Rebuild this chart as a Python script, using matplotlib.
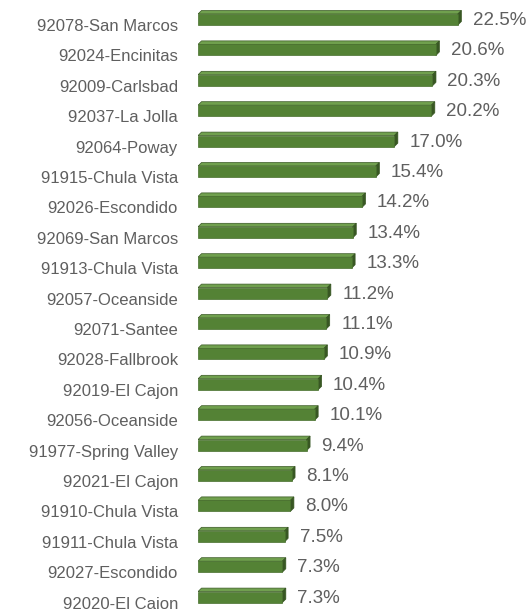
import matplotlib
matplotlib.use('Agg')
import matplotlib.pyplot as plt
from matplotlib.patches import Polygon

plt.rcParams['font.family'] = ['Liberation Sans', 'DejaVu Sans']

zips = ['92078-San Marcos', '92024-Encinitas', '92009-Carlsbad', '92037-La Jolla',
        '92064-Poway', '91915-Chula Vista', '92026-Escondido', '92069-San Marcos',
        '91913-Chula Vista', '92057-Oceanside', '92071-Santee', '92028-Fallbrook',
        '92019-El Cajon', '92056-Oceanside', '91977-Spring Valley', '92021-El Cajon',
        '91910-Chula Vista', '91911-Chula Vista', '92027-Escondido', '92020-El Cajon']
pct = [22.5, 20.6, 20.3, 20.2, 17.0, 15.4, 14.2, 13.4, 13.3, 11.2,
       11.1, 10.9, 10.4, 10.1, 9.4, 8.1, 8.0, 7.5, 7.3, 7.3]

front = '#548235'
top = '#70a04e'
side = '#385723'
grey = '#5f5f5f'

W, H = 527, 609
fig = plt.figure(figsize=(W / 100, H / 100), dpi=100)
left_px = 198
ax = fig.add_axes([left_px / W, 0, 1 - left_px / W, 1])
px_per_unit = 11.55
row_px = 30.4
first_px = 19.5
ax.set_xlim(0, (W - left_px) / px_per_unit)
ax.set_ylim((H - first_px) / row_px, -first_px / row_px)

bh = 11 / row_px          # front face height
dx = 3.5 / px_per_unit    # depth in x
dy = 3.5 / row_px         # depth in y (axis inverted)

for i, v in enumerate(pct):
    y0 = i + bh / 2
    y1 = i - bh / 2
    ax.add_patch(Polygon([(0, y1), (v, y1), (v + dx, y1 - dy), (dx, y1 - dy)],
                         closed=True, facecolor=top, edgecolor=side, lw=0.5))
    ax.add_patch(Polygon([(v, y1), (v + dx, y1 - dy), (v + dx, y0 - dy), (v, y0)],
                         closed=True, facecolor=side, edgecolor=side, lw=0.5))
    ax.add_patch(Polygon([(0, y0), (v, y0), (v, y1), (0, y1)],
                         closed=True, facecolor=front, edgecolor='#476f2c', lw=0.5))
    ax.text(v + 15 / px_per_unit, i + 1 / row_px, f'{v:.1f}%', va='center',
            ha='left', color=grey, fontsize=13.5)
    ax.text(-20 / px_per_unit, i + 7 / row_px, zips[i], va='center',
            ha='right', color=grey, fontsize=12)

ax.set_xticks([])
ax.set_yticks([])
for s in ax.spines.values():
    s.set_visible(False)

fig.savefig('out.png', dpi=100)
